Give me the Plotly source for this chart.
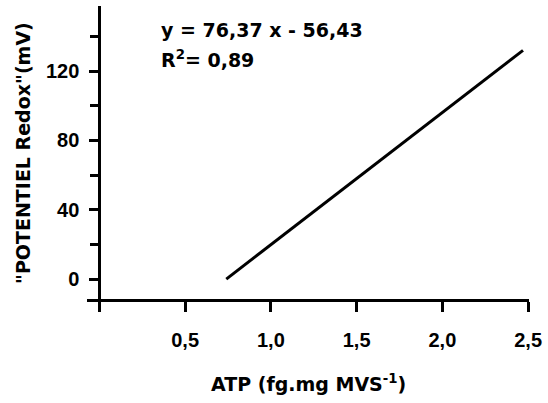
import plotly.graph_objects as go

# Data (regression line as drawn)
atp = [0.74, 2.47]
redox = [0.0, 132.0]

x_tickvals = [0.5, 1.0, 1.5, 2.0, 2.5]
x_ticktext = ["0,5", "1,0", "1,5", "2,0", "2,5"]
x_minor_vals = [0]
y_tickvals = [0, 40, 80, 120]
y_ticktext = ["0", "40", "80", "120"]
y_minor_vals = [20, 60, 100, 140]

equation = "y = 76,37 x - 56,43"
r2_text = "R<sup>2</sup>= 0,89"
x_title = "ATP (fg.mg MVS<sup>-1</sup>)"
y_title = "\"POTENTIEL Redox\"(mV)"

x_range = [-0.072, 2.505]
y_range = [-11.5, 157.6]

fig = go.Figure()
fig.add_trace(go.Scatter(x=atp, y=redox, mode="lines",
                         line=dict(color="black", width=3), showlegend=False,
                         hoverinfo="skip"))

tickfont = dict(family="Liberation Sans", size=20, color="black", weight="bold")
titlefont = dict(family="DejaVu Sans", size=19, color="black", weight="bold")

fig.update_layout(
    width=548, height=403,
    margin=dict(l=87, r=16, t=6, b=104),
    paper_bgcolor="white", plot_bgcolor="white",
    xaxis=dict(range=x_range, domain=[0, 1], showgrid=False, zeroline=False,
               showline=True, linecolor="black", linewidth=3,
               ticks="outside", ticklen=10, tickwidth=3, tickcolor="black",
               tickmode="array", tickvals=x_tickvals, ticktext=x_ticktext,
               tickfont=tickfont, ticklabelstandoff=11,
               minor=dict(tickmode="array", tickvals=x_minor_vals, ticks="outside",
                          ticklen=10, tickwidth=3, tickcolor="black", showgrid=False)),
    yaxis=dict(range=y_range, showgrid=False, zeroline=False,
               anchor="free", position=(0 - x_range[0]) / (x_range[1] - x_range[0]),
               showline=True, linecolor="black", linewidth=3,
               ticks="outside", ticklen=9, tickwidth=3, tickcolor="black",
               tickmode="array", tickvals=y_tickvals, ticktext=y_ticktext,
               tickfont=tickfont, ticklabelstandoff=6,
               minor=dict(tickmode="array", tickvals=y_minor_vals, ticks="outside",
                          ticklen=8, tickwidth=3, tickcolor="black", showgrid=False)),
)

fig.add_annotation(x=0.35, y=143.5, xref="x", yref="y", text=equation,
                   showarrow=False, xanchor="left", yanchor="middle", font=titlefont)
fig.add_annotation(x=0.35, y=127.0, xref="x", yref="y", text=r2_text,
                   showarrow=False, xanchor="left", yanchor="middle", font=titlefont)
fig.add_annotation(x=0.5, y=-0.287, xref="paper", yref="paper", text=x_title,
                   showarrow=False, xanchor="center", yanchor="middle", font=titlefont)
fig.add_annotation(x=-0.146, y=0.5, xref="paper", yref="paper", text=y_title,
                   textangle=-90, showarrow=False, xanchor="center", yanchor="middle",
                   font=titlefont)

fig.write_html("out.html")
